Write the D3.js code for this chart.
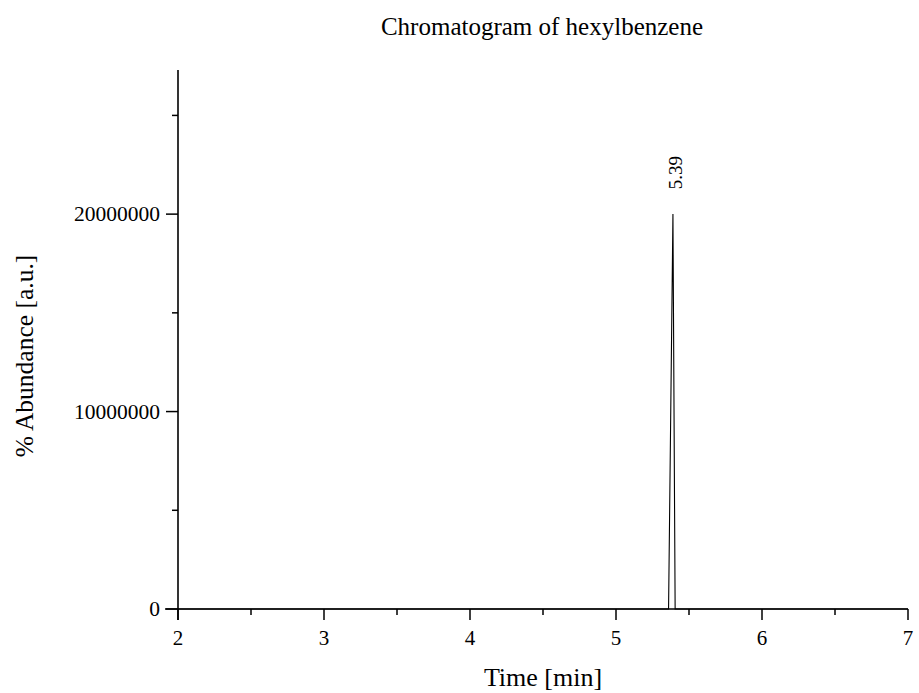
<!DOCTYPE html>
<html>
<head>
<meta charset="utf-8">
<script src="https://cdn.jsdelivr.net/npm/d3@7"></script>
<style>
  body { margin: 0; background: #fff; }
  svg text { font-family: "Liberation Serif", "Times New Roman", serif; fill: #000; }
</style>
</head>
<body>
<div id="chart"></div>
<script>
// chromatogram trace (time in min, abundance)
const times = [2, 5.36, 5.39, 5.405, 7];
const abundance = [0, 0, 20000000, 0, 0];
const xTicks = [2, 3, 4, 5, 6, 7];
const yTicks = [0, 10000000, 20000000];
const peakTimes = [5.39];
const peakHeights = [20000000];

const width = 919, height = 693;

const svg = d3.select("#chart")
  .append("svg")
  .attr("width", width)
  .attr("height", height);

const x = d3.scaleLinear().domain([2, 7]).range([178, 908]);
const y = d3.scaleLinear().domain([0, 27300000]).range([609, 70]);

// x axis
const xAxis = svg.append("g").attr("transform", "translate(0,609)");
xAxis.append("line")
  .attr("x1", 165).attr("x2", 908)
  .attr("stroke", "#000").attr("stroke-width", 1.6);
const xMinor = d3.range(2.5, 7, 1);
xAxis.selectAll(".minor").data(xMinor).join("line")
  .attr("x1", d => x(d)).attr("x2", d => x(d))
  .attr("y1", 0).attr("y2", 6)
  .attr("stroke", "#000").attr("stroke-width", 1.5);
xAxis.selectAll(".major").data(xTicks).join("line")
  .attr("x1", d => x(d)).attr("x2", d => x(d))
  .attr("y1", 0).attr("y2", 11)
  .attr("stroke", "#000").attr("stroke-width", 1.5);
xAxis.selectAll("text").data(xTicks).join("text")
  .attr("x", d => x(d)).attr("y", 36)
  .attr("text-anchor", "middle")
  .attr("font-size", 21)
  .text(d => d);

// y axis
const yAxis = svg.append("g").attr("transform", "translate(178,0)");
yAxis.append("line")
  .attr("y1", 70).attr("y2", 620)
  .attr("stroke", "#000").attr("stroke-width", 1.6);
const yMinor = [5000000, 15000000, 25000000];
yAxis.selectAll(".minor").data(yMinor).join("line")
  .attr("y1", d => y(d)).attr("y2", d => y(d))
  .attr("x1", 0).attr("x2", -6)
  .attr("stroke", "#000").attr("stroke-width", 1.5);
yAxis.selectAll(".major").data(yTicks).join("line")
  .attr("y1", d => y(d)).attr("y2", d => y(d))
  .attr("x1", 0).attr("x2", -12)
  .attr("stroke", "#000").attr("stroke-width", 1.5);
yAxis.selectAll("text").data(yTicks).join("text")
  .attr("x", -18).attr("y", d => y(d) + 7)
  .attr("text-anchor", "end")
  .attr("font-size", 21.5)
  .text(d => d);

// trace
const line = d3.line()
  .x((d, i) => x(times[i]))
  .y(d => y(d));
svg.append("path")
  .datum(abundance)
  .attr("d", line)
  .attr("fill", "none")
  .attr("stroke", "#000")
  .attr("stroke-width", 1.1);

// peak label
svg.selectAll(".peak").data(peakTimes).join("text")
  .attr("transform", (d, i) => `translate(${x(d) + 9},${y(peakHeights[i]) - 25}) rotate(-90)`)
  .attr("font-size", 19)
  .text(d => d.toFixed(2));

// titles
svg.append("text")
  .attr("x", 542).attr("y", 35)
  .attr("text-anchor", "middle")
  .attr("font-size", 25)
  .text("Chromatogram of hexylbenzene");

svg.append("text")
  .attr("x", 543).attr("y", 686)
  .attr("text-anchor", "middle")
  .attr("font-size", 26)
  .text("Time [min]");

svg.append("text")
  .attr("transform", "translate(33,356) rotate(-90)")
  .attr("text-anchor", "middle")
  .attr("font-size", 25.5)
  .text("% Abundance [a.u.]");
</script>
</body>
</html>
